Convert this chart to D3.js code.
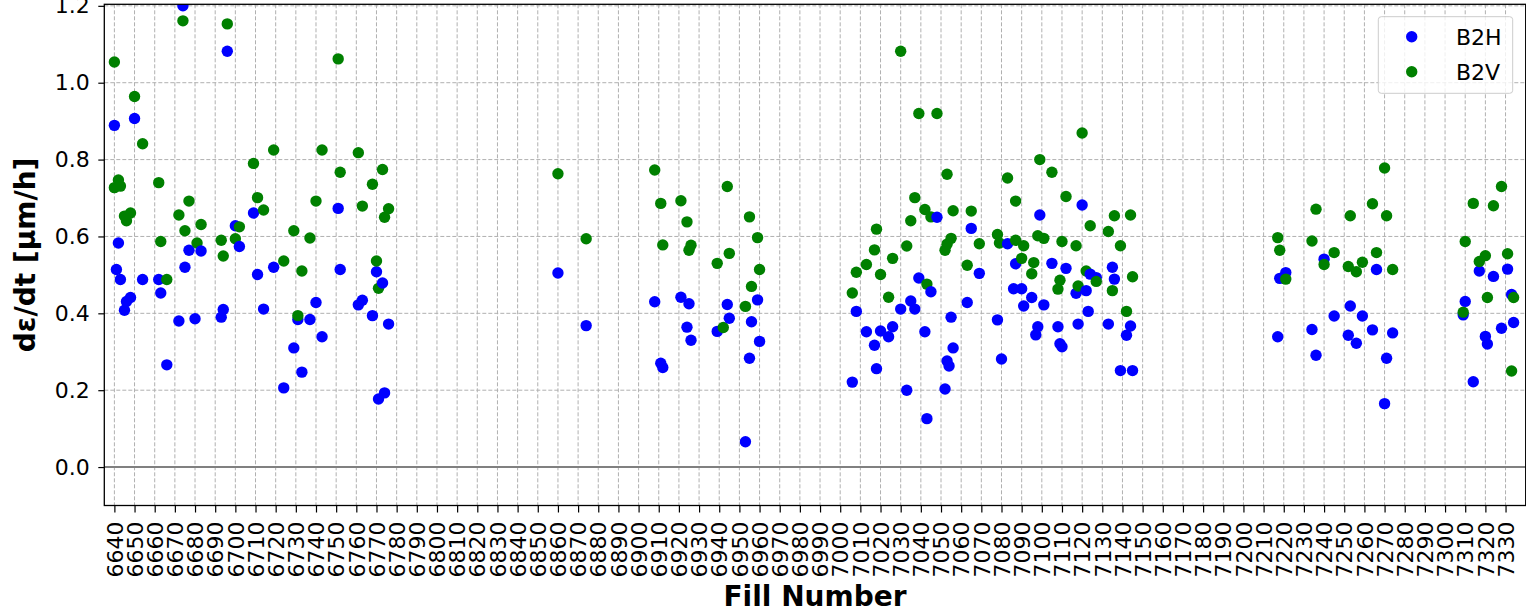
<!DOCTYPE html>
<html>
<head>
<meta charset="utf-8">
<script src="https://cdn.jsdelivr.net/npm/d3@7"></script>
<style>
  body { margin: 0; background: #fff; }
  text { font-family: "DejaVu Sans", sans-serif; }
</style>
</head>
<body>
<svg id="chart" width="1526" height="613"></svg>
<script>
// Emittance growth rate per fill, beam 2 horizontal plane
const b2hFill = [
  6640, 6641, 6642, 6643, 6645, 6646, 6648, 6650, 6654, 6662, 6663, 6666, 6672, 6674, 6675, 6677,
  6680, 6683, 6693, 6694, 6696, 6700, 6702, 6709, 6711, 6714, 6719, 6724, 6729, 6731, 6733, 6737,
  6740, 6743, 6751, 6752, 6761, 6763, 6768, 6770, 6771, 6773, 6774, 6776,
  6860, 6874, 6908, 6911, 6912, 6921, 6924, 6925, 6926, 6939, 6944, 6945, 6953, 6955, 6956, 6959, 6960,
  7006, 7008, 7013, 7017, 7018, 7020, 7024, 7026, 7030, 7033, 7035, 7037, 7039, 7042, 7043, 7045,
  7048, 7052, 7053, 7054, 7055, 7056, 7063, 7065, 7069, 7078, 7080, 7083, 7086, 7087, 7090, 7091,
  7095, 7097, 7098, 7099, 7101, 7105, 7108, 7109, 7110, 7112, 7117, 7118, 7120, 7122, 7123, 7124,
  7127, 7133, 7135, 7136, 7139, 7142, 7144, 7145,
  7217, 7218, 7221, 7234, 7236, 7240, 7245, 7252, 7253, 7256, 7259, 7264, 7266, 7270, 7271, 7274,
  7309, 7310, 7314, 7317, 7320, 7321, 7324, 7328, 7331, 7333, 7334
];
const b2hRate = [
  0.889, 0.514, 0.583, 0.488, 0.408, 0.431, 0.441, 0.907, 0.488, 0.488, 0.453, 0.266, 0.380, 1.200, 0.520, 0.564,
  0.386, 0.562, 0.390, 0.410, 1.082, 0.628, 0.574, 0.661, 0.501, 0.411, 0.520, 0.206, 0.310, 0.384, 0.247, 0.384,
  0.428, 0.339, 0.673, 0.514, 0.422, 0.434, 0.394, 0.508, 0.177, 0.479, 0.193, 0.372,
  0.505, 0.368, 0.430, 0.270, 0.259, 0.442, 0.364, 0.425, 0.330, 0.353, 0.423, 0.387, 0.066, 0.283, 0.378, 0.435, 0.327,
  0.221, 0.405, 0.352, 0.317, 0.256, 0.354, 0.339, 0.365, 0.411, 0.200, 0.432, 0.411, 0.492, 0.352, 0.126, 0.456,
  0.650, 0.203, 0.276, 0.263, 0.390, 0.310, 0.428, 0.621, 0.504, 0.383, 0.281, 0.581, 0.464, 0.529, 0.464, 0.419,
  0.441, 0.344, 0.365, 0.656, 0.422, 0.530, 0.365, 0.321, 0.313, 0.517, 0.452, 0.372, 0.682, 0.459, 0.405, 0.502,
  0.493, 0.372, 0.520, 0.489, 0.251, 0.343, 0.367, 0.251,
  0.339, 0.491, 0.506, 0.358, 0.291, 0.541, 0.393, 0.343, 0.419, 0.322, 0.393, 0.357, 0.514, 0.165, 0.283, 0.349,
  0.396, 0.431, 0.222, 0.510, 0.340, 0.320, 0.496, 0.361, 0.515, 0.449, 0.376
];

// Emittance growth rate per fill, beam 2 vertical plane
const b2vFill = [
  6640, 6640, 6642, 6643, 6645, 6646, 6648, 6650, 6654, 6662, 6663, 6666, 6672, 6674, 6675, 6677,
  6681, 6683, 6693, 6694, 6696, 6700, 6702, 6709, 6711, 6714, 6719, 6724, 6729, 6731, 6733, 6737,
  6740, 6743, 6751, 6752, 6761, 6763, 6768, 6770, 6771, 6773, 6774, 6776,
  6860, 6874, 6908, 6911, 6912, 6921, 6924, 6925, 6926, 6939, 6942, 6944, 6945, 6953, 6955, 6956, 6959, 6960,
  7006, 7008, 7013, 7017, 7018, 7020, 7024, 7026, 7030, 7033, 7035, 7037, 7039, 7042, 7043, 7045,
  7048, 7052, 7053, 7053, 7055, 7056, 7063, 7065, 7069, 7078, 7079, 7083, 7087, 7087, 7090, 7091,
  7095, 7096, 7098, 7099, 7101, 7105, 7108, 7109, 7110, 7112, 7117, 7118, 7120, 7122, 7124, 7127,
  7133, 7135, 7136, 7139, 7142, 7144, 7145,
  7217, 7218, 7221, 7234, 7236, 7240, 7245, 7252, 7253, 7256, 7259, 7264, 7266, 7270, 7271, 7274,
  7309, 7310, 7314, 7317, 7320, 7321, 7324, 7328, 7331, 7333, 7334
];
const b2vRate = [
  1.054, 0.727, 0.747, 0.731, 0.653, 0.641, 0.661, 0.964, 0.841, 0.740, 0.587, 0.488, 0.656, 1.161, 0.615, 0.692,
  0.583, 0.631, 0.590, 0.549, 1.153, 0.594, 0.625, 0.790, 0.701, 0.669, 0.825, 0.536, 0.615, 0.394, 0.510, 0.596,
  0.692, 0.825, 1.062, 0.767, 0.818, 0.679, 0.736, 0.536, 0.465, 0.774, 0.650, 0.672,
  0.763, 0.594, 0.773, 0.686, 0.578, 0.693, 0.638, 0.564, 0.577, 0.530, 0.363, 0.730, 0.556, 0.418, 0.651, 0.470, 0.597, 0.514,
  0.453, 0.507, 0.527, 0.565, 0.619, 0.501, 0.442, 0.543, 1.082, 0.575, 0.641, 0.701, 0.920, 0.670, 0.476, 0.651,
  0.920, 0.564, 0.580, 0.762, 0.595, 0.667, 0.525, 0.666, 0.581, 0.605, 0.583, 0.752, 0.692, 0.590, 0.543, 0.576,
  0.503, 0.532, 0.602, 0.800, 0.595, 0.767, 0.463, 0.486, 0.587, 0.704, 0.576, 0.471, 0.869, 0.510, 0.628, 0.483,
  0.613, 0.459, 0.654, 0.576, 0.405, 0.656, 0.495,
  0.597, 0.564, 0.489, 0.588, 0.671, 0.527, 0.558, 0.522, 0.654, 0.508, 0.533, 0.685, 0.558, 0.778, 0.654, 0.514,
  0.403, 0.587, 0.686, 0.535, 0.550, 0.441, 0.680, 0.730, 0.555, 0.250, 0.441
];

const seriesNames = ["B2H", "B2V"];
const seriesColors = ["#0000ff", "#008000"];
const xTicks = d3.range(6640, 7331, 10);
const yTicks = [0.0, 0.2, 0.4, 0.6, 0.8, 1.0, 1.2];

const svg = d3.select("#chart");
const plot = { left: 104.3, right: 1525.7, top: 4.3, bottom: 505.5 };
const markerR = 5.7;

const x = d3.scaleLinear().domain([6635, 7340]).range([plot.left, plot.right]);
const y = d3.scaleLinear().domain([-0.1, 1.204]).range([plot.bottom, plot.top]);

svg.append("defs").append("clipPath").attr("id", "plot-clip")
  .append("rect")
  .attr("x", plot.left).attr("y", plot.top)
  .attr("width", plot.right - plot.left).attr("height", plot.bottom - plot.top);

// dashed grid
const grid = svg.append("g").attr("stroke", "#b0b0b0").attr("stroke-width", 1)
  .attr("stroke-dasharray", "4,2").attr("fill", "none");
grid.selectAll("line.v").data(xTicks).join("line").attr("class", "v")
  .attr("x1", d => x(d)).attr("x2", d => x(d))
  .attr("y1", plot.top).attr("y2", plot.bottom);
grid.selectAll("line.h").data(yTicks).join("line").attr("class", "h")
  .attr("x1", plot.left).attr("x2", plot.right)
  .attr("y1", d => y(d)).attr("y2", d => y(d));

// zero reference line
svg.append("line")
  .attr("x1", plot.left).attr("x2", plot.right)
  .attr("y1", y(0)).attr("y2", y(0))
  .attr("stroke", "#808080").attr("stroke-width", 2);

// points, drawn fill by fill (horizontal before vertical)
const points = [];
b2hFill.forEach((f, i) => points.push({ fill: f, rate: b2hRate[i], s: 0 }));
b2vFill.forEach((f, i) => points.push({ fill: f, rate: b2vRate[i], s: 1 }));
points.sort((a, b) => a.fill - b.fill || a.s - b.s);

svg.append("g").attr("clip-path", "url(#plot-clip)")
  .selectAll("circle").data(points).join("circle")
  .attr("cx", d => x(d.fill))
  .attr("cy", d => y(d.rate))
  .attr("r", markerR)
  .attr("fill", d => seriesColors[d.s]);

// axes
const xAxis = svg.append("g")
  .attr("transform", `translate(0,${plot.bottom})`)
  .call(d3.axisBottom(x).tickValues(xTicks).tickSize(7).tickFormat(d3.format("d")));
xAxis.select(".domain").remove();
xAxis.selectAll(".tick line").attr("stroke", "#000").attr("stroke-width", 1.2);
xAxis.selectAll(".tick text")
  .attr("transform", "rotate(-90)")
  .attr("x", -16).attr("y", 0).attr("dy", "0.35em")
  .style("text-anchor", "end")
  .style("font-size", "22px").attr("fill", "#000");

const yAxis = svg.append("g")
  .attr("transform", `translate(${plot.left},0)`)
  .call(d3.axisLeft(y).tickValues(yTicks).tickSize(6).tickPadding(8.5).tickFormat(d3.format(".1f")));
yAxis.select(".domain").remove();
yAxis.selectAll(".tick line").attr("stroke", "#000").attr("stroke-width", 1.2);
yAxis.selectAll(".tick text").style("font-size", "22px").attr("fill", "#000");

// frame
svg.append("rect")
  .attr("x", plot.left).attr("y", plot.top)
  .attr("width", plot.right - plot.left).attr("height", plot.bottom - plot.top)
  .attr("fill", "none").attr("stroke", "#000").attr("stroke-width", 1.3);

// axis titles
svg.append("text")
  .attr("transform", `translate(34.5,${(plot.top + plot.bottom) / 2}) rotate(-90)`)
  .attr("text-anchor", "middle")
  .style("font-size", "28px").style("font-weight", "bold")
  .text("dε/dt [μm/h]");

svg.append("text")
  .attr("x", (plot.left + plot.right) / 2).attr("y", 606)
  .attr("text-anchor", "middle")
  .style("font-size", "28px").style("font-weight", "bold")
  .text("Fill Number");

// legend
const legend = svg.append("g");
legend.append("rect")
  .attr("x", 1378.3).attr("y", 16.7).attr("width", 134.4).attr("height", 76.6)
  .attr("rx", 3).attr("fill", "#fff").attr("fill-opacity", 0.8)
  .attr("stroke", "#cccccc").attr("stroke-width", 1);
seriesNames.forEach((name, i) => {
  const cy = 36.7 + i * 35;
  legend.append("circle").attr("cx", 1411.7).attr("cy", cy).attr("r", markerR).attr("fill", seriesColors[i]);
  legend.append("text").attr("x", 1456).attr("y", cy + 8.2)
    .style("font-size", "22px").attr("fill", "#000").text(name);
});
</script>
</body>
</html>
